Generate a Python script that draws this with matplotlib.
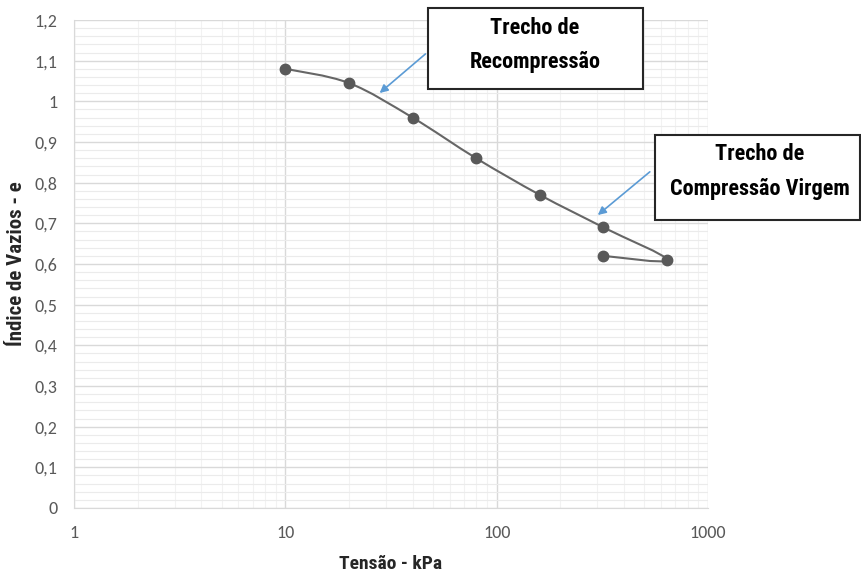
import matplotlib
matplotlib.use("Agg")
import matplotlib.pyplot as plt
import numpy as np
from matplotlib.path import Path
from matplotlib.patches import PathPatch, Rectangle
from matplotlib.ticker import FixedLocator, FuncFormatter, MultipleLocator, LogLocator, NullFormatter

tick_font = ["Carlito", "DejaVu Sans"]
bold_font = ["Roboto Condensed", "DejaVu Sans"]

tensao = [10, 20, 40, 80, 160, 320, 640, 320]
indice = [1.08, 1.045, 0.96, 0.86, 0.77, 0.69, 0.61, 0.62]
y_ticks = [0, 0.1, 0.2, 0.3, 0.4, 0.5, 0.6, 0.7, 0.8, 0.9, 1.0, 1.1, 1.2]
x_ticks = [1, 10, 100, 1000]

fig = plt.figure(figsize=(8.61, 5.79), dpi=100)
ax = fig.add_axes([74/861, 71/579, 634/861, 488/579])
ax.set_xscale("log")
ax.set_xlim(1, 1000)
ax.set_ylim(0, 1.2)

ax.yaxis.set_major_locator(FixedLocator(y_ticks))
ax.yaxis.set_minor_locator(MultipleLocator(0.02))
ax.xaxis.set_major_locator(FixedLocator(x_ticks))
ax.xaxis.set_minor_locator(LogLocator(base=10, subs=np.arange(2, 10)))
ax.xaxis.set_minor_formatter(NullFormatter())
ax.yaxis.set_minor_formatter(NullFormatter())
ax.grid(which="major", color="#d9d9d9", linewidth=1.0)
ax.yaxis.grid(which="minor", color="#ebebeb", linewidth=0.8)
ax.xaxis.grid(which="minor", color="#f2f2f2", linewidth=0.8)
ax.set_axisbelow(True)
for s in ax.spines.values():
    s.set_visible(False)
for side in ("left", "bottom"):
    ax.spines[side].set_visible(True)
    ax.spines[side].set_color("#d9d9d9")
ax.tick_params(which="both", length=0, labelcolor="#595959", labelsize=13)
ax.tick_params(axis="x", pad=12)
ax.tick_params(axis="y", pad=12)

def yfmt(v, pos):
    s = ("%.1f" % v).rstrip("0").rstrip(".")
    return s.replace(".", ",")
ax.yaxis.set_major_formatter(FuncFormatter(yfmt))
ax.xaxis.set_major_formatter(FuncFormatter(lambda v, p: "%d" % round(v)))
for lab in ax.get_xticklabels() + ax.get_yticklabels():
    lab.set_family(tick_font)

# smoothed line (Catmull-Rom in log-x space), like Excel's smoothed line
lx = np.log10(tensao)
yy = np.array(indice)
n = len(lx)
verts = [(lx[0], yy[0])]
codes = [Path.MOVETO]
t = 1/6
for i in range(n - 1):
    p0 = (lx[max(i-1, 0)], yy[max(i-1, 0)])
    p1 = (lx[i], yy[i])
    p2 = (lx[i+1], yy[i+1])
    p3 = (lx[min(i+2, n-1)], yy[min(i+2, n-1)])
    c1 = (p1[0] + (p2[0]-p0[0])*t, p1[1] + (p2[1]-p0[1])*t)
    c2 = (p2[0] - (p3[0]-p1[0])*t, p2[1] - (p3[1]-p1[1])*t)
    verts += [c1, c2, p2]
    codes += [Path.CURVE4]*3
verts = [(10**vx, vy) for vx, vy in verts]
ax.add_patch(PathPatch(Path(verts, codes), facecolor="none", edgecolor="#666666", linewidth=1.5, zorder=3))
ax.plot(tensao, indice, linestyle="none", marker="o", markersize=7.5, color="#595959", zorder=4)

ax.set_xlabel("Tensão - kPa", fontsize=14, fontweight="bold", family=bold_font, color="#262626", labelpad=10)
ax.set_ylabel("Índice de Vazios - e", fontsize=15, fontweight="bold", family=bold_font, color="#262626", labelpad=6)

arrow = dict(arrowstyle="-|>", color="#5b9bd5", lw=1.2, mutation_scale=12)
ax.annotate("", xy=(27.3, 1.016), xytext=(47.1, 1.121), arrowprops=arrow, annotation_clip=False)
ax.annotate("", xy=(294, 0.716), xytext=(543, 0.831), arrowprops=arrow, annotation_clip=False)

fig.patches.append(Rectangle((428/861, 490/579), 215/861, 81/579, transform=fig.transFigure,
                             facecolor="white", edgecolor="#262626", linewidth=1.5, zorder=5))
fig.patches.append(Rectangle((655/861, 359/579), 205/861, 85/579, transform=fig.transFigure,
                             facecolor="white", edgecolor="#262626", linewidth=1.5, zorder=5))
tk = dict(ha="center", va="center", fontsize=16, fontweight="bold", family=bold_font, color="black", zorder=6)
fig.text(535/861, 1 - 28/579, "Trecho de", **tk)
fig.text(535/861, 1 - 62/579, "Recompressão", **tk)
fig.text(760/861, 1 - 154/579, "Trecho de", **tk)
fig.text(760/861, 1 - 189/579, "Compressão Virgem", **tk)

fig.savefig("out.png", dpi=100)
